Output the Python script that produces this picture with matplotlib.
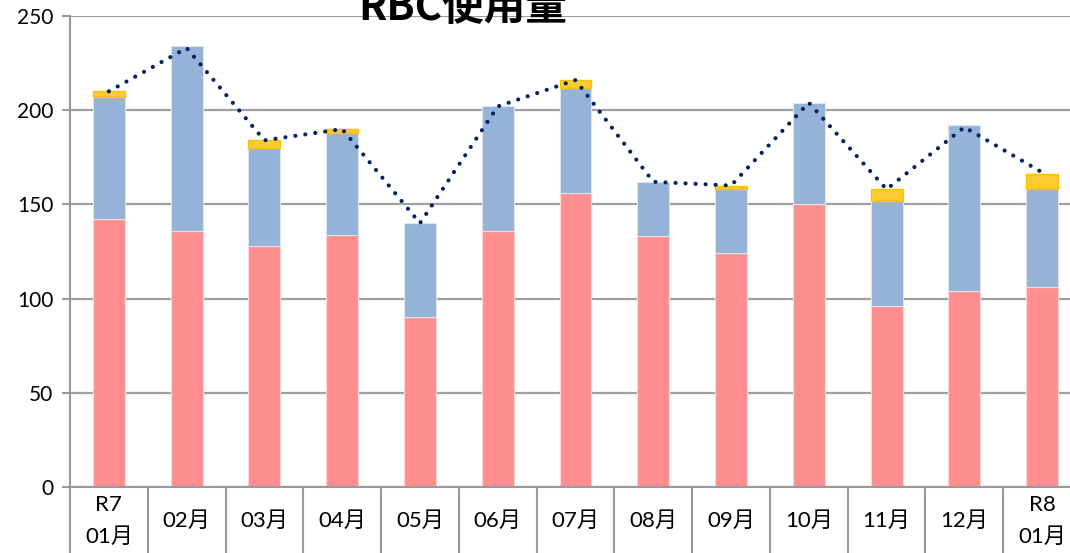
import matplotlib
matplotlib.use("Agg")
import matplotlib.pyplot as plt
import numpy as np

categories = ["R7\n01月", "02月", "03月", "04月", "05月", "06月", "07月",
              "08月", "09月", "10月", "11月", "12月", "R8\n01月"]
pink_vals = [142, 136, 128, 134, 90, 136, 156, 133, 124, 150, 96, 104, 106]
blue_vals = [65, 98, 52, 54, 50, 66, 56, 29, 34, 54, 56, 88, 52]
yellow_vals = [3, 0, 4, 2, 0, 0, 4, 0, 2, 0, 6, 0, 8]
total_vals = [210, 233, 184, 190, 140, 202, 216, 162, 160, 204, 158, 191, 167]
yticks = [0, 50, 100, 150, 200, 250]
title = "RBC使用量"

W, H = 1070, 553
fig = plt.figure(figsize=(W / 100, H / 100), dpi=100)
left, right = 70, 1081
top, bottom = 16, 487
ax = fig.add_axes([left / W, 1 - bottom / H, (right - left) / W, (bottom - top) / H])

x = np.arange(len(categories))
pink = np.array(pink_vals)
blue = np.array(blue_vals)
yellow = np.array(yellow_vals)
bw = 0.41
ax.bar(x, pink, bw, color="#FF8F8F", edgecolor="#FFD9D9", linewidth=0.8, zorder=2)
ax.bar(x, blue, bw, bottom=pink, color="#95B3D7", edgecolor="#DCE6F2", linewidth=0.8, zorder=2)
m = yellow > 0
ax.bar(x[m], yellow[m], bw, bottom=(pink + blue)[m], color="#FFCA33",
       edgecolor="#FFC000", linewidth=1.0, zorder=2)

ax.plot(x, total_vals, color="#002060", linewidth=3.0,
        linestyle=(0, (0.01, 2.4)), dash_capstyle="round", zorder=4)

ax.set_xlim(-0.5, len(categories) - 0.5)
ax.set_ylim(0, 250)
ax.set_yticks(yticks)
ax.set_yticklabels([str(v) for v in yticks], fontsize=15, family=["Lato", "DejaVu Sans"])
ax.tick_params(axis="y", length=6, width=1.5, color="#999999", pad=6)
ax.yaxis.grid(True, color="#A0A0A0", linewidth=1.6, zorder=0)
ax.set_axisbelow(True)

ax.set_xticks(np.arange(-0.5, len(categories), 1.0))
ax.set_xticklabels([])
ax.tick_params(axis="x", length=50, width=1.5, color="#999999", direction="out")

for s in ["top", "right"]:
    ax.spines[s].set_visible(False)
for s in ["left", "bottom"]:
    ax.spines[s].set_color("#999999")
    ax.spines[s].set_linewidth(1.5)

trans = ax.get_xaxis_transform()
yc = -(521 - 487) / (bottom - top)
for i, lab in enumerate(categories):
    ax.text(i, yc, lab, transform=trans, ha="center", va="center",
            fontsize=16, family=["Lato", "Noto Sans CJK JP"], linespacing=1.75,
            clip_on=False)

fig.text(463 / W, 1 - 20 / H, title, ha="center", va="baseline",
         fontsize=30, fontweight="bold", family=["Noto Sans CJK JP"])

fig.savefig("out.png", dpi=100)
